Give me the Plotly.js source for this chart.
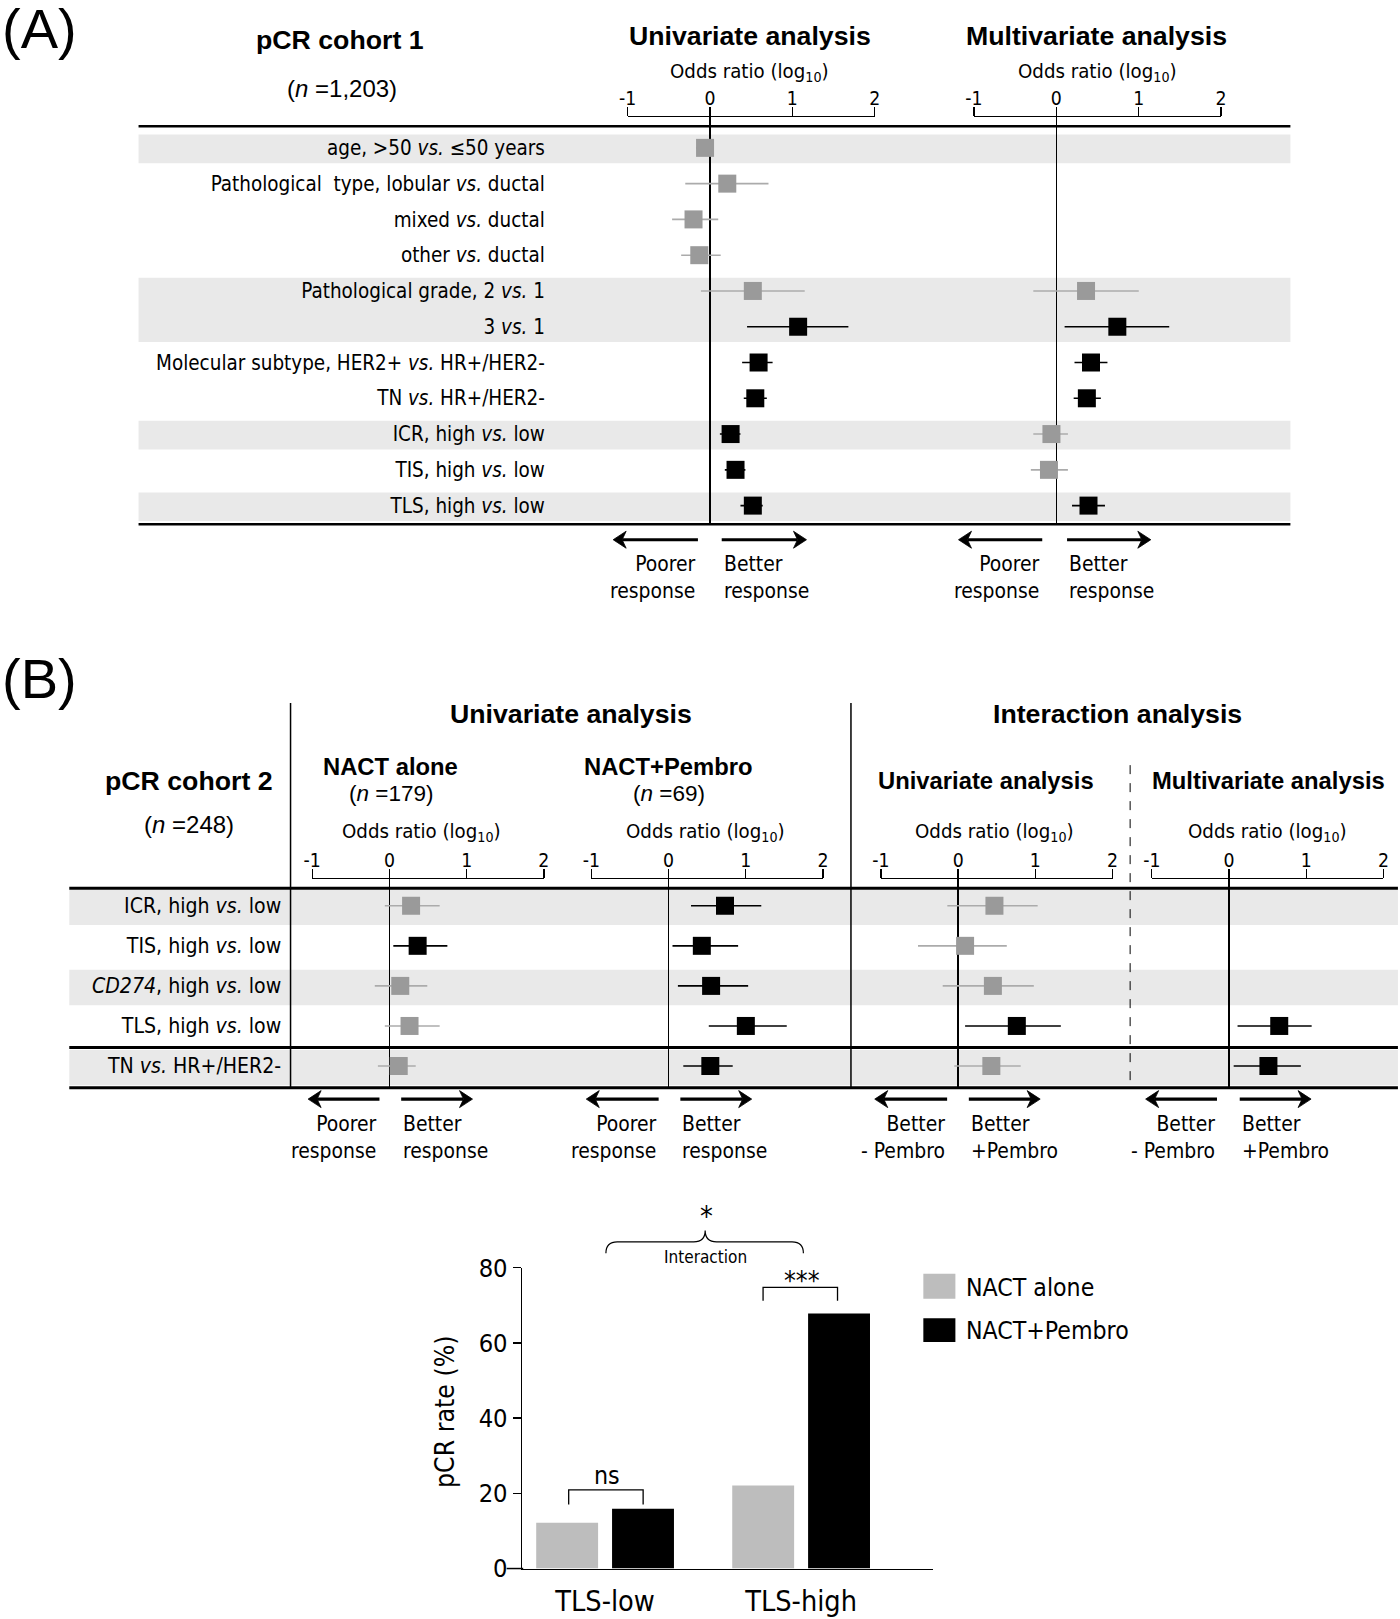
<!DOCTYPE html>
<html><head><meta charset="utf-8">
<script src="https://cdn.plot.ly/plotly-3.0.1.min.js"></script>
<style>html,body{margin:0;padding:0;background:#fff}#chart{width:1400px;height:1619px}</style>
</head><body><div id="chart"></div>
<script>
// ---------------- DATA ----------------
const rowsA = [
  "age, &gt;50 <i>vs.</i> ≤50 years",
  "Pathological  type, lobular <i>vs.</i> ductal",
  "mixed <i>vs.</i> ductal",
  "other <i>vs.</i> ductal",
  "Pathological grade, 2 <i>vs.</i> 1",
  "3 <i>vs.</i> 1",
  "Molecular subtype, HER2+ <i>vs.</i> HR+/HER2-",
  "TN <i>vs.</i> HR+/HER2-",
  "ICR, high <i>vs.</i> low",
  "TIS, high <i>vs.</i> low",
  "TLS, high <i>vs.</i> low"
];
const uniA_or  = [-0.06, 0.21, -0.20, -0.13, 0.52, 1.07, 0.59, 0.55, 0.25, 0.31, 0.52];
const uniA_lo  = [-0.17, -0.30, -0.46, -0.35, -0.11, 0.45, 0.39, 0.41, 0.12, 0.18, 0.37];
const uniA_hi  = [0.04, 0.71, 0.10, 0.13, 1.15, 1.68, 0.76, 0.69, 0.37, 0.43, 0.64];
const uniA_sig = [0, 0, 0, 0, 0, 1, 1, 1, 1, 1, 1];
const mulA_or  = [null, null, null, null, 0.36, 0.74, 0.42, 0.37, -0.06, -0.09, 0.39];
const mulA_lo  = [null, null, null, null, -0.28, 0.10, 0.22, 0.21, -0.28, -0.31, 0.19];
const mulA_hi  = [null, null, null, null, 1.00, 1.37, 0.62, 0.54, 0.14, 0.14, 0.59];
const mulA_sig = [0, 0, 0, 0, 0, 1, 1, 1, 0, 0, 1];

const rowsB = [
  "ICR, high <i>vs.</i> low",
  "TIS, high <i>vs.</i> low",
  "<i>CD274</i>, high <i>vs.</i> low",
  "TLS, high <i>vs.</i> low",
  "TN <i>vs.</i> HR+/HER2-"
];
const nact_or  = [0.28, 0.365, 0.14, 0.26, 0.12];
const nact_lo  = [-0.06, 0.05, -0.19, -0.06, -0.15];
const nact_hi  = [0.65, 0.75, 0.49, 0.65, 0.34];
const nact_sig = [0, 1, 0, 0, 0];
const pemb_or  = [0.73, 0.43, 0.55, 1.00, 0.54];
const pemb_lo  = [0.29, 0.05, 0.12, 0.52, 0.19];
const pemb_hi  = [1.20, 0.90, 1.03, 1.53, 0.83];
const pemb_sig = [1, 1, 1, 1, 1];
const intU_or  = [0.47, 0.09, 0.45, 0.76, 0.43];
const intU_lo  = [-0.14, -0.52, -0.20, 0.09, -0.05];
const intU_hi  = [1.03, 0.63, 0.98, 1.33, 0.81];
const intU_sig = [0, 0, 0, 1, 0];
const intM_or  = [null, null, null, 0.65, 0.51];
const intM_lo  = [null, null, null, 0.11, 0.06];
const intM_hi  = [null, null, null, 1.07, 0.93];
const intM_sig = [0, 0, 0, 1, 1];

const forestTicks = [-1, 0, 1, 2];
const forestTickText = ["-1", "0", "1", "2"];

const barCats = ["TLS-low", "TLS-high"];
const barNactAlone = [12.2, 22.1];
const barNactPembro = [15.9, 67.8];
const barTicks = [0, 20, 40, 60, 80];

// ---------------- STYLE / GEOMETRY ----------------
const W = 1400, H = 1619, K = 1400 / 1354;
const px = v => v * K / W;
const py = v => 1 - v * K / H;
const xdom = (a, b) => [px(a), px(b)];
const ydom = (top, bot) => [py(bot), py(top)];

function hasFont(name) {
  const c = document.createElement('canvas').getContext('2d');
  const s = 'mmmmmmmmmmlliiWWWabcdefghijk0123456789';
  let same = true;
  for (const base of ['monospace', 'serif']) {
    c.font = '40px ' + base; const w1 = c.measureText(s).width;
    c.font = '40px "' + name + '", ' + base; const w2 = c.measureText(s).width;
    if (Math.abs(w1 - w2) > 0.5) same = false;
  }
  return !same;
}
const condensed = hasFont('DejaVu Sans Condensed');
const REG = condensed ? 'DejaVu Sans Condensed' : 'DejaVu Sans';
const sc = condensed ? 1.1 : 1.0;
const narrow = hasFont('Liberation Sans Narrow');
const BOLDF = narrow ? 'Liberation Sans Narrow' : 'Liberation Sans';
const BIG = narrow ? 32 : 26.7, SMALL = narrow ? 29 : 23.8;
const ARIAL = 'Liberation Sans';

const BLACK = '#000000', GRAYM = '#9a9a9a', GRAYL = '#ababab', BAND = '#e9e9e9';
const BARGRAY = '#bdbdbd';

// ---------------- TRACES ----------------
function forest(or, lo, hi, sig, xa, ya, size) {
  const out = [];
  [0, 1].forEach(s => {
    const idx = or.map((v, i) => i).filter(i => or[i] !== null && sig[i] === s);
    if (!idx.length) return;
    out.push({
      type: 'scatter', mode: 'markers', xaxis: xa, yaxis: ya,
      x: idx.map(i => or[i]), y: idx,
      marker: { symbol: 'square', size: size, color: s ? BLACK : GRAYM, line: { width: 0 } },
      error_x: { type: 'data', symmetric: false, array: idx.map(i => hi[i] - or[i]),
        arrayminus: idx.map(i => or[i] - lo[i]), color: s ? BLACK : GRAYL, thickness: 1.6, width: 0 },
      cliponaxis: false, hoverinfo: 'skip', showlegend: false
    });
  });
  return out;
}
const traces = [].concat(
  forest(uniA_or, uniA_lo, uniA_hi, uniA_sig, 'x', 'y', 18),
  forest(mulA_or, mulA_lo, mulA_hi, mulA_sig, 'x2', 'y', 18),
  forest(nact_or, nact_lo, nact_hi, nact_sig, 'x3', 'y2', 18),
  forest(pemb_or, pemb_lo, pemb_hi, pemb_sig, 'x4', 'y2', 18),
  forest(intU_or, intU_lo, intU_hi, intU_sig, 'x5', 'y2', 18),
  forest(intM_or, intM_lo, intM_hi, intM_sig, 'x6', 'y2', 18),
  [
    { type: 'bar', name: 'NACT alone', x: barCats, y: barNactAlone, xaxis: 'x7', yaxis: 'y3',
      marker: { color: BARGRAY }, hoverinfo: 'skip' },
    { type: 'bar', name: 'NACT+Pembro', x: barCats, y: barNactPembro, xaxis: 'x7', yaxis: 'y3',
      marker: { color: BLACK }, hoverinfo: 'skip' }
  ]
);

// ---------------- AXES ----------------
function forestAxis(a, b, ya) {
  return {
    domain: xdom(a, b), range: [-1, 2], anchor: ya, side: 'top',
    tickmode: 'array', tickvals: forestTicks, ticktext: forestTickText,
    ticks: 'outside', ticklen: 9, tickwidth: 1.3, tickcolor: '#000', ticklabelstandoff: -6,
    showline: true, linewidth: 1.3, linecolor: '#000', showgrid: false,
    zeroline: true, zerolinecolor: '#000', zerolinewidth: 1.5,
    tickfont: { family: REG, size: 17.5 * sc, color: '#000' }, fixedrange: true
  };
}
function rowAxis(labels, top, bot, row0, sp, pos, fs) {
  return {
    domain: ydom(top, bot), range: [(bot - row0) / sp, (top - row0) / sp],
    anchor: 'free', position: px(pos), side: 'left',
    tickmode: 'array', tickvals: labels.map((_, i) => i), ticktext: labels,
    ticks: '', showline: false, showgrid: false, zeroline: false,
    tickfont: { family: REG, size: fs * sc, color: '#000' }, fixedrange: true
  };
}

// ---------------- SHAPES ----------------
const shapes = [];
function hline(y, x0, x1, w, dash) {
  shapes.push({ type: 'line', xref: 'paper', yref: 'paper', x0: px(x0), x1: px(x1), y0: py(y), y1: py(y),
    line: { color: '#000', width: w, dash: dash || 'solid' } });
}
function vline(x, y0, y1, w, dash) {
  shapes.push({ type: 'line', xref: 'paper', yref: 'paper', x0: px(x), x1: px(x), y0: py(y0), y1: py(y1),
    line: { color: '#000', width: w, dash: dash || 'solid' } });
}
function band(yref, i0, i1, x0, x1, a, b) {
  shapes.push({ type: 'rect', xref: 'paper', yref: yref, x0: px(x0), x1: px(x1), y0: i0 - a, y1: i1 + b,
    fillcolor: BAND, line: { width: 0 }, layer: 'below' });
}
function path(pts, w) {
  const d = pts.map((p, i) => (i ? 'L' : 'M') + px(p[0]) + ',' + py(p[1])).join(' ');
  shapes.push({ type: 'path', xref: 'paper', yref: 'paper', path: d, line: { color: '#000', width: w } });
}
// arrow: tail and head in display coords; head drawn as filled chevron (real px sizes)
function arrow(tail, head, y) {
  const dir = head > tail ? 1 : -1;
  const hx = head * K, yy = y * K, L = 13, N = 9, Hh = 8.5;
  const pr = v => v / W, qr = v => 1 - v / H;
  shapes.push({ type: 'line', xref: 'paper', yref: 'paper', x0: px(tail), x1: pr(hx - dir * N), y0: qr(yy), y1: qr(yy),
    line: { color: '#000', width: 3.2 } });
  const d = 'M' + pr(hx) + ',' + qr(yy) + ' L' + pr(hx - dir * L) + ',' + qr(yy - Hh) +
    ' L' + pr(hx - dir * N) + ',' + qr(yy) + ' L' + pr(hx - dir * L) + ',' + qr(yy + Hh) + ' Z';
  shapes.push({ type: 'path', xref: 'paper', yref: 'paper', path: d, fillcolor: '#000', line: { color: '#000', width: 0.8 } });
}
// Panel A
[[0, 0], [4, 5], [8, 8], [10, 10]].forEach(g => band('y', g[0], g[1], 134, 1248, 0.37, 0.43));
hline(122, 134, 1248, 2.5);
hline(507, 134, 1248, 2.5);
// Panel B
[[0, 0], [2, 2], [4, 4]].forEach(g => band('y2', g[0], g[1], 67, 1352, 0.40, 0.48));
hline(859, 67, 1352, 3);
hline(1013, 67, 1352, 3);
hline(1052, 67, 1352, 3);
vline(281, 680, 1052, 1.5);
vline(823, 680, 1052, 1.5);
vline(1093, 740, 1052, 1, 'dash');
// bar chart: x-axis line extends slightly left of the y axis
hline(1517, 490, 506, 1.5);
// brackets
path([[550, 1455], [550, 1441], [622, 1441], [622, 1455]], 1.3);
path([[738, 1258], [738, 1245], [810, 1245], [810, 1258]], 1.3);
// brace
(function () {
  const q = (x, y) => px(x) + ',' + py(y);
  const d = 'M' + q(586, 1212) + ' Q' + q(586, 1201) + ' ' + q(597, 1201) + ' L' + q(671, 1201) +
    ' Q' + q(682, 1201) + ' ' + q(682, 1190) + ' Q' + q(682, 1201) + ' ' + q(693, 1201) +
    ' L' + q(766, 1201) + ' Q' + q(777, 1201) + ' ' + q(777, 1212);
  shapes.push({ type: 'path', xref: 'paper', yref: 'paper', path: d, line: { color: '#000', width: 1.2 } });
})();
// legend swatches
shapes.push({ type: 'rect', xref: 'paper', yref: 'paper', x0: px(893), x1: px(924), y0: py(1256), y1: py(1232),
  fillcolor: BARGRAY, line: { width: 0 } });
shapes.push({ type: 'rect', xref: 'paper', yref: 'paper', x0: px(893), x1: px(924), y0: py(1298), y1: py(1275),
  fillcolor: BLACK, line: { width: 0 } });

// ---------------- ANNOTATIONS ----------------
const ann = [];
function T(text, x, y, o) {
  o = o || {};
  ann.push({ text: text, x: px(x), y: py(y), xref: 'paper', yref: 'paper', showarrow: false,
    xanchor: o.xa || 'center', yanchor: o.ya || 'middle', align: o.align || 'center',
    textangle: o.angle || 0,
    font: { family: o.family || REG, size: o.size || 19 * sc, color: '#000', weight: o.weight || 'normal' } });
}
const bold = (t, x, y, s) => T(t, x, y, { family: BOLDF, size: s, weight: 'bold' });
function pair(lStart, lEnd, rStart, rEnd, y, textL, textR, ty) {
  arrow(lStart, lEnd, y); arrow(rStart, rEnd, y);
  T(textL, lStart, ty, { xa: 'right', align: 'right', size: 19 * sc });
  T(textR, rStart, ty, { xa: 'left', align: 'left', size: 19 * sc });
}
// Panel A
T('(A)', 38, 28, { family: ARIAL, size: 56 });
bold('pCR cohort 1', 329, 39, BIG);
T('(<i>n</i> =1,203)', 331, 86, { family: ARIAL, size: 24 });
bold('Univariate analysis', 725, 35, BIG);
bold('Multivariate analysis', 1060, 35, BIG);
T('Odds ratio (log<sub>10</sub>)', 725, 70, { size: 18.4 * sc });
T('Odds ratio (log<sub>10</sub>)', 1061, 70, { size: 18.4 * sc });
pair(675, 593, 698, 780, 522, 'Poorer<br>response', 'Better<br>response', 559);
pair(1008, 927, 1032, 1113, 522, 'Poorer<br>response', 'Better<br>response', 559);
// Panel B
T('(B)', 38, 656, { family: ARIAL, size: 56 });
bold('Univariate analysis', 552, 691, BIG);
bold('Interaction analysis', 1081, 691, BIG);
bold('NACT alone', 378, 741, SMALL);
T('(<i>n</i> =179)', 378, 767, { family: ARIAL, size: 22.5 });
bold('NACT+Pembro', 647, 741, SMALL);
T('(<i>n</i> =69)', 647, 767, { family: ARIAL, size: 22.5 });
bold('Univariate analysis', 954, 755, SMALL);
bold('Multivariate analysis', 1227, 755, SMALL);
bold('pCR cohort 2', 183, 755, BIG);
T('(<i>n</i> =248)', 183, 797, { family: ARIAL, size: 24 });
[408, 682, 962, 1226].forEach(x => T('Odds ratio (log<sub>10</sub>)', x, 805, { size: 18.4 * sc }));
pair(367, 298, 388, 457, 1063, 'Poorer<br>response', 'Better<br>response', 1100);
pair(637, 567, 658, 727, 1063, 'Poorer<br>response', 'Better<br>response', 1100);
pair(916, 846, 937, 1006, 1063, 'Better<br>- Pembro', 'Better<br>+Pembro', 1100);
pair(1177, 1108, 1199, 1268, 1063, 'Better<br>- Pembro', 'Better<br>+Pembro', 1100);
// Bar chart
T('pCR rate (%)', 430, 1365, { size: 24 * sc, angle: -90 });
T('ns', 587, 1427, { size: 22.5 * sc });
T('***', 776, 1238, { size: 24 * sc });
T('*', 683, 1176, { size: 26 * sc });
T('Interaction', 682, 1216, { size: 15.5 * sc });
T('NACT alone', 932, 1245, { xa: 'left', size: 22.4 * sc });
T('NACT+Pembro', 932, 1287, { xa: 'left', size: 22.4 * sc });

// ---------------- LAYOUT ----------------
const layout = {
  width: W, height: H, margin: { l: 0, r: 0, t: 0, b: 0 },
  paper_bgcolor: '#fff', plot_bgcolor: 'rgba(0,0,0,0)', showlegend: false,
  font: { family: REG, color: '#000' },
  xaxis: forestAxis(607, 846, 'y'),
  xaxis2: forestAxis(942, 1181, 'y'),
  xaxis3: forestAxis(302, 526, 'y2'),
  xaxis4: forestAxis(572, 796, 'y2'),
  xaxis5: forestAxis(852, 1076, 'y2'),
  xaxis6: forestAxis(1114, 1338, 'y2'),
  yaxis: rowAxis(rowsA, 113, 507, 143, 34.6, 527, 18.6),
  yaxis2: rowAxis(rowsB, 850, 1052, 876, 38.75, 272, 19.2),
  xaxis7: { domain: xdom(505, 902), anchor: 'y3', type: 'category', range: [-0.423, 1.671],
    showline: true, linewidth: 1.5, linecolor: '#000', ticks: '', showgrid: false, zeroline: false,
    ticklabelstandoff: 7,
    tickfont: { family: REG, size: 26 * sc, color: '#000' }, fixedrange: true },
  yaxis3: { domain: ydom(1226, 1517), anchor: 'x7', range: [0, 80], tickmode: 'array', tickvals: barTicks,
    ticks: 'outside', ticklen: 8, tickwidth: 1.5, tickcolor: '#000', showline: true, linewidth: 1.5,
    linecolor: '#000', showgrid: false, zeroline: false,
    tickfont: { family: REG, size: 23 * sc, color: '#000' }, fixedrange: true },
  barmode: 'group', bargap: 0.226, bargroupgap: 0.184,
  shapes: shapes, annotations: ann
};
Plotly.newPlot('chart', traces, layout, { staticPlot: true, displayModeBar: false });
</script></body></html>
